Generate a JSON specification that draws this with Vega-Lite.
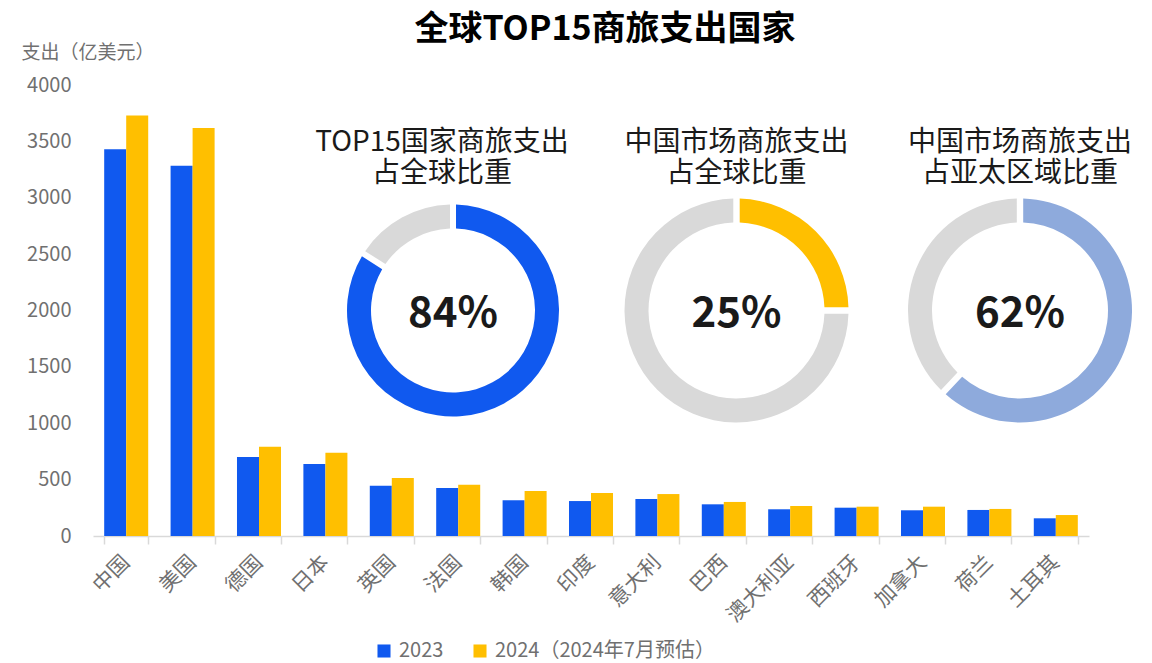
{
  "$schema": "https://vega.github.io/schema/vega-lite/v6.json",
  "width": 996,
  "height": 451,
  "autosize": {"type": "none"},
  "padding": {"left": 93, "top": 85, "right": 63, "bottom": 127},
  "background": "white",
  "config": {
    "font": "Noto Sans CJK SC",
    "view": {"stroke": null}
  },
  "title": {
    "text": "全球TOP15商旅支出国家",
    "fontSize": 34,
    "fontWeight": "bold",
    "color": "#000000",
    "anchor": "middle",
    "frame": "group",
    "dx": 14,
    "offset": -4
  },
  "datasets": {
    "bars": [
      {"country": "中国", "year": "2023", "value": 3430},
      {"country": "中国", "year": "2024", "value": 3730},
      {"country": "美国", "year": "2023", "value": 3284},
      {"country": "美国", "year": "2024", "value": 3619},
      {"country": "德国", "year": "2023", "value": 701},
      {"country": "德国", "year": "2024", "value": 792},
      {"country": "日本", "year": "2023", "value": 639},
      {"country": "日本", "year": "2024", "value": 739},
      {"country": "英国", "year": "2023", "value": 446},
      {"country": "英国", "year": "2024", "value": 514},
      {"country": "法国", "year": "2023", "value": 426},
      {"country": "法国", "year": "2024", "value": 455},
      {"country": "韩国", "year": "2023", "value": 317},
      {"country": "韩国", "year": "2024", "value": 399},
      {"country": "印度", "year": "2023", "value": 310},
      {"country": "印度", "year": "2024", "value": 381},
      {"country": "意大利", "year": "2023", "value": 328},
      {"country": "意大利", "year": "2024", "value": 372},
      {"country": "巴西", "year": "2023", "value": 281},
      {"country": "巴西", "year": "2024", "value": 302},
      {"country": "澳大利亚", "year": "2023", "value": 237},
      {"country": "澳大利亚", "year": "2024", "value": 266},
      {"country": "西班牙", "year": "2023", "value": 251},
      {"country": "西班牙", "year": "2024", "value": 260},
      {"country": "加拿大", "year": "2023", "value": 228},
      {"country": "加拿大", "year": "2024", "value": 260},
      {"country": "荷兰", "year": "2023", "value": 231},
      {"country": "荷兰", "year": "2024", "value": 240},
      {"country": "土耳其", "year": "2023", "value": 157},
      {"country": "土耳其", "year": "2024", "value": 186}
    ],
    "donut": [
      {"id": 1, "chart": "TOP15国家商旅支出\n占全球比重", "part": "share", "seq": 1, "value": 0.84},
      {"id": 1, "chart": "TOP15国家商旅支出\n占全球比重", "part": "rest", "seq": 2, "value": 0.16},
      {"id": 2, "chart": "中国市场商旅支出\n占全球比重", "part": "share", "seq": 1, "value": 0.25},
      {"id": 2, "chart": "中国市场商旅支出\n占全球比重", "part": "rest", "seq": 2, "value": 0.75},
      {"id": 3, "chart": "中国市场商旅支出\n占亚太区域比重", "part": "share", "seq": 1, "value": 0.62},
      {"id": 3, "chart": "中国市场商旅支出\n占亚太区域比重", "part": "rest", "seq": 2, "value": 0.38}
    ]
  },
  "layer": [
    {
      "data": {"name": "bars"},
      "mark": {"type": "bar"},
      "encoding": {
        "x": {
          "field": "country",
          "type": "nominal",
          "sort": null,
          "scale": {"paddingInner": 0.337, "paddingOuter": 0.1685},
          "axis": {
            "title": null,
            "tickBand": "extent",
            "labelAngle": -45,
            "labelAlign": "right",
            "labelBaseline": "middle",
            "labelFontSize": 21,
            "labelColor": "#707070",
            "labelPadding": 15,
            "domainColor": "#d9d9d9",
            "domainWidth": 1.5,
            "tickColor": "#d9d9d9",
            "tickWidth": 1.5,
            "tickSize": 8
          }
        },
        "xOffset": {"field": "year", "type": "nominal", "scale": {"paddingInner": 0, "paddingOuter": 0}},
        "y": {
          "field": "value",
          "type": "quantitative",
          "scale": {"domain": [0, 4000], "nice": false},
          "axis": {
            "values": [0, 500, 1000, 1500, 2000, 2500, 3000, 3500, 4000],
            "format": "d",
            "grid": false,
            "domain": false,
            "ticks": false,
            "labelFontSize": 20,
            "labelColor": "#707070",
            "labelPadding": 22,
            "title": "支出（亿美元）",
            "titleAngle": 0,
            "titleAlign": "left",
            "titleBaseline": "middle",
            "titleX": -72,
            "titleY": -33,
            "titleFontSize": 19,
            "titleFontWeight": "normal",
            "titleColor": "#707070"
          }
        },
        "color": {
          "field": "year",
          "type": "nominal",
          "scale": {"domain": ["2023", "2024"], "range": ["#1059EF", "#FFBF00"]},
          "legend": {
            "orient": "none",
            "legendX": 281,
            "legendY": 556,
            "direction": "horizontal",
            "title": null,
            "symbolType": "square",
            "symbolSize": 170,
            "symbolStrokeWidth": 0,
            "labelFontSize": 20,
            "labelColor": "#707070",
            "labelOffset": 5,
            "labelLimit": 0,
            "columnPadding": 26,
            "labelExpr": "datum.label == '2024' ? '2024（2024年7月预估）' : datum.label"
          }
        }
      }
    },
    {
      "data": {"name": "donut"},
      "encoding": {
        "x": {
          "field": "chart",
          "type": "nominal",
          "scale": {
            "type": "point",
            "domain": ["TOP15国家商旅支出\n占全球比重", "中国市场商旅支出\n占全球比重", "中国市场商旅支出\n占亚太区域比重"],
            "range": [360, 927],
            "padding": 0
          },
          "axis": null
        }
      },
      "layer": [
        {
          "transform": [{"filter": "datum.id == 1"}],
          "mark": {"type": "arc", "radius": 106, "radius2": 82, "padAngle": 0.045},
          "encoding": {
            "y": {"datum": 2000, "type": "quantitative", "scale": {"domain": [0, 4000], "nice": false}, "axis": null},
            "theta": {"field": "value", "type": "quantitative", "stack": true, "scale": {"domain": [0, 1]}},
            "order": {"field": "seq"},
            "color": {"condition": {"test": "datum.part == 'share'", "value": "#1059EF"}, "value": "#D9D9D9"}
          }
        },
        {
          "transform": [{"filter": "datum.id == 2"}],
          "mark": {"type": "arc", "radius": 112, "radius2": 88, "padAngle": 0.045},
          "encoding": {
            "y": {"datum": 2000, "type": "quantitative", "scale": {"domain": [0, 4000], "nice": false}, "axis": null},
            "theta": {"field": "value", "type": "quantitative", "stack": true, "scale": {"domain": [0, 1]}},
            "order": {"field": "seq"},
            "color": {"condition": {"test": "datum.part == 'share'", "value": "#FFBF00"}, "value": "#D9D9D9"}
          }
        },
        {
          "transform": [{"filter": "datum.id == 3"}],
          "mark": {"type": "arc", "radius": 112, "radius2": 88, "padAngle": 0.045},
          "encoding": {
            "y": {"datum": 2000, "type": "quantitative", "scale": {"domain": [0, 4000], "nice": false}, "axis": null},
            "theta": {"field": "value", "type": "quantitative", "stack": true, "scale": {"domain": [0, 1]}},
            "order": {"field": "seq"},
            "color": {"condition": {"test": "datum.part == 'share'", "value": "#8EAADC"}, "value": "#D9D9D9"}
          }
        },
        {
          "transform": [{"filter": "datum.part == 'share'"}],
          "mark": {"type": "text", "fontSize": 42, "fontWeight": "bold", "color": "#1a1a1a", "align": "center", "baseline": "middle", "dy": 3},
          "encoding": {
            "y": {"datum": 2000, "type": "quantitative", "scale": {"domain": [0, 4000], "nice": false}, "axis": null},
            "text": {"field": "value", "type": "quantitative", "format": ".0%"}
          }
        },
        {
          "transform": [{"filter": "datum.part == 'share' && datum.id == 1"}],
          "mark": {"type": "text", "fontSize": 28, "color": "#1a1a1a", "align": "center", "baseline": "middle", "lineBreak": "\n", "lineHeight": 31, "dx": -11},
          "encoding": {
            "y": {"datum": 3490, "type": "quantitative", "scale": {"domain": [0, 4000], "nice": false}, "axis": null},
            "text": {"field": "chart"}
          }
        },
        {
          "transform": [{"filter": "datum.part == 'share' && datum.id != 1"}],
          "mark": {"type": "text", "fontSize": 28, "color": "#1a1a1a", "align": "center", "baseline": "middle", "lineBreak": "\n", "lineHeight": 31},
          "encoding": {
            "y": {"datum": 3490, "type": "quantitative", "scale": {"domain": [0, 4000], "nice": false}, "axis": null},
            "text": {"field": "chart"}
          }
        }
      ]
    }
  ],
  "resolve": {"scale": {"x": "independent", "y": "independent"}}
}
